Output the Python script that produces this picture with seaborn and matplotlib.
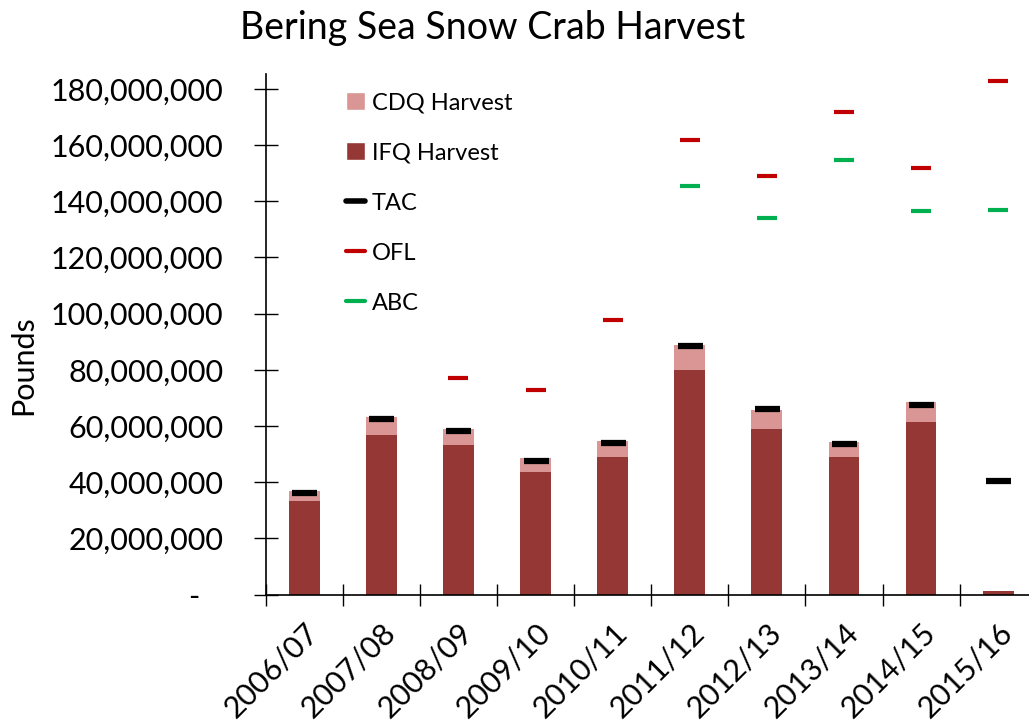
import numpy as np
import pandas as pd
import matplotlib
matplotlib.use("Agg")
import matplotlib.pyplot as plt
import seaborn as sns
from matplotlib.patches import Patch
from matplotlib.lines import Line2D
from matplotlib.ticker import FuncFormatter

# Data (pounds)
seasons = ["2006/07", "2007/08", "2008/09", "2009/10", "2010/11",
           "2011/12", "2012/13", "2013/14", "2014/15", "2015/16"]
ifq_harvest = [33.2e6, 56.9e6, 53.2e6, 43.8e6, 49.1e6, 80.1e6, 59.0e6, 49.1e6, 61.6e6, 1.2e6]
cdq_harvest = [3.7e6, 6.3e6, 5.8e6, 4.8e6, 5.7e6, 8.8e6, 6.7e6, 5.2e6, 7.0e6, 0.1e6]
tac = [36.2e6, 62.6e6, 58.3e6, 47.7e6, 54.0e6, 88.6e6, 66.1e6, 53.7e6, 67.6e6, 40.4e6]
ofl = [np.nan, np.nan, 77.0e6, 72.7e6, 97.8e6, 161.7e6, 149.1e6, 171.9e6, 151.7e6, 182.8e6]
abc = [np.nan, np.nan, np.nan, np.nan, np.nan, 145.4e6, 134.2e6, 154.7e6, 136.7e6, 137.0e6]

ifq_color = "#953735"
cdq_color = "#D99694"
tac_color = "black"
ofl_color = "#C00000"
abc_color = "#00B050"

df = pd.DataFrame({
    "season": seasons,
    "ifq": ifq_harvest,
    "total": np.array(ifq_harvest) + np.array(cdq_harvest),
    "pos": np.arange(len(seasons)),
    "tac": tac,
    "ofl": ofl,
    "abc": abc,
})

sns.set_style("white")
plt.rcParams["font.family"] = ["Lato", "DejaVu Sans"]
plt.rcParams.update({"text.color": "black", "axes.labelcolor": "black",
                     "xtick.color": "black", "ytick.color": "black"})

fig = plt.figure(figsize=(10.29, 7.28), dpi=100)
# axes run off the right edge, like the reference
ax = fig.add_axes([265.7 / 1029, 1 - 594.7 / 728, 771 / 1029, (594.7 - 74) / 728])

# stacked bars: total (CDQ on top) then IFQ over it
sns.barplot(data=df, x="season", y="total", color=cdq_color, width=0.4,
            saturation=1, linewidth=0, ax=ax)
sns.barplot(data=df, x="season", y="ifq", color=ifq_color, width=0.4,
            saturation=1, linewidth=0, ax=ax)

# TAC / OFL / ABC dash markers
sns.scatterplot(data=df, x="pos", y="tac", marker="_", s=18 ** 2, linewidth=4.5,
                color=tac_color, legend=False, ax=ax, zorder=5)
sns.scatterplot(data=df, x="pos", y="ofl", marker="_", s=14 ** 2, linewidth=3,
                color=ofl_color, legend=False, ax=ax, zorder=5)
sns.scatterplot(data=df, x="pos", y="abc", marker="_", s=14 ** 2, linewidth=3,
                color=abc_color, legend=False, ax=ax, zorder=5)

ax.set_xlim(-0.5, 9.5)
ax.set_ylim(0, 185.3e6)

# category ticks sit between bars, labels at the bar centres
ax.set_xticks(np.arange(-0.5, 10, 1))
ax.set_xticklabels([])
ax.set_xticks(np.arange(len(seasons)), minor=True)
ax.set_xticklabels(seasons, minor=True, rotation=45, ha="right", va="top",
                   rotation_mode="anchor", fontsize=22)
ax.tick_params(axis="x", which="major", bottom=True, direction="inout", length=16,
               width=1, color="black")
ax.tick_params(axis="x", which="minor", bottom=True, length=0, pad=17)

ax.set_yticks(np.arange(0, 181e6, 20e6))
ax.yaxis.set_major_formatter(
    FuncFormatter(lambda v, p: "-" + " " * 3 if v == 0 else f"{v:,.0f}"))
ax.tick_params(axis="y", left=True, direction="inout", length=17, width=1, color="black",
               labelsize=22, pad=22)

for side in ["top", "right"]:
    ax.spines[side].set_visible(False)
for side in ["left", "bottom"]:
    ax.spines[side].set_color("black")
    ax.spines[side].set_linewidth(1.2)

ax.set_xlabel("")
ax.set_ylabel("Pounds", fontsize=22)
ax.yaxis.set_label_coords((37 - 265.7) / 771, 0.441)

handles = [
    Patch(facecolor=cdq_color, label="CDQ Harvest"),
    Patch(facecolor=ifq_color, label="IFQ Harvest"),
    Line2D([], [], color=tac_color, lw=4, label="TAC"),
    Line2D([], [], color=ofl_color, lw=3, label="OFL"),
    Line2D([], [], color=abc_color, lw=3, label="ABC"),
]
ax.legend(handles=handles, loc="upper left", bbox_to_anchor=(71 / 771, 0.983),
          frameon=False, fontsize=17, handlelength=0.8, handleheight=0.8,
          handletextpad=0.3, labelspacing=1.22, borderaxespad=0)

fig.text(493 / 1029, 1 - 28 / 728, "Bering Sea Snow Crab Harvest", ha="center",
         va="center", fontsize=27)

plt.savefig("out.png", dpi=100)
